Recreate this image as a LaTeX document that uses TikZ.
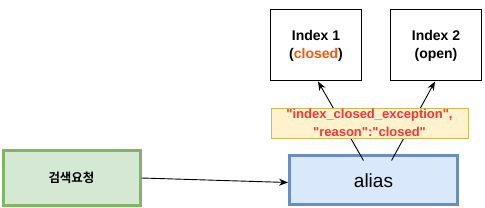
\documentclass[tikz,border=0pt]{standalone}
\usepackage{fontspec}
\setmainfont{Liberation Sans}
\newfontfamily\krfont{Noto Sans CJK KR}[BoldFont={* Bold}]
\font\lblfont="Liberation Sans Bold" at 13pt
\newcommand\lblstyle{\lblfont\baselineskip=18pt\relax}
\usetikzlibrary{arrows.meta}
\definecolor{gfill}{HTML}{D5E8D4}
\definecolor{gdraw}{HTML}{82B366}
\definecolor{bfill}{HTML}{DAE8FC}
\definecolor{bdraw}{HTML}{6C8EBF}
\definecolor{yfill}{HTML}{FFF2CC}
\definecolor{ydraw}{HTML}{D6B656}
\definecolor{redtxt}{HTML}{FF3333}
\definecolor{orangetxt}{HTML}{FF5500}
\tikzset{
  idxbox/.style={draw=black, line width=1pt, fill=white, minimum width=91pt, minimum height=71pt, align=center, font=\fontsize{14}{18}\selectfont\bfseries, inner sep=0pt},
  conn/.style={line width=0.9pt, -{Stealth[length=9pt,width=7pt]}},
}
\begin{document}
\begin{tikzpicture}[x=1pt,y=-1pt]
\useasboundingbox (0,0) rectangle (485,208);
\node[idxbox] (idx1) at (316,45.5) {Index 1\\(\textcolor{orangetxt}{closed})};
\node[idxbox] (idx2) at (436,45.5) {Index 2\\(open)};
\node[draw=gdraw, fill=gfill, line width=3pt, minimum width=137pt, minimum height=55pt, inner sep=0pt, font=\krfont\bfseries\fontsize{12.5}{14}\selectfont] (req) at (71.5,178) {검색요청};
\node[draw=bdraw, fill=bfill, line width=3pt, minimum width=168pt, minimum height=49pt, inner sep=0pt, font=\fontsize{19}{20}\selectfont] (alias) at (373.5,180.5) {alias};
\draw[conn] (req.east) -- ([yshift=-2pt]alias.west);
\draw[conn] ([xshift=-10pt,yshift=-6pt]alias.north) -- ([xshift=2pt]idx1.south);
\draw[conn] ([xshift=18pt,yshift=-6pt]alias.north) -- ([xshift=-1pt]idx2.south);
\node[draw=ydraw, fill=yfill, line width=0.8pt, minimum width=197pt, minimum height=30pt, inner sep=0pt, align=center, text=redtxt, font=\lblstyle] (lbl) at (369.5,123) {\char34 index\char95 closed\char95 exception\char34,\\\char34 reason\char34:\char34 closed\char34};
\end{tikzpicture}
\end{document}
